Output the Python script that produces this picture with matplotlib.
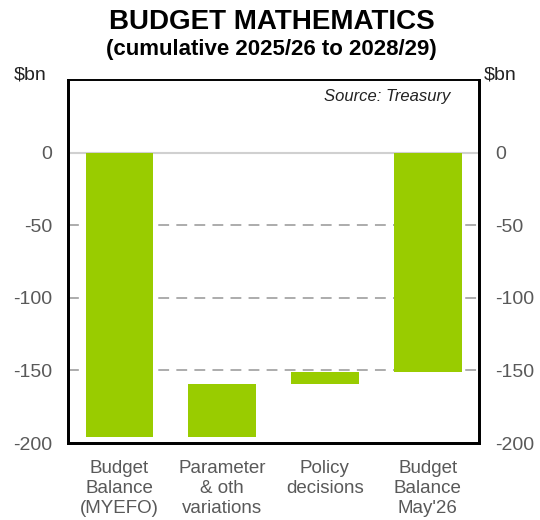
import numpy as np
import matplotlib.pyplot as plt

plt.rcParams['font.family'] = ['Liberation Sans', 'DejaVu Sans']
plt.rcParams['axes.unicode_minus'] = False

categories = ["Budget\nBalance\n(MYEFO)", "Parameter\n& oth\nvariations", "Policy\ndecisions", "Budget\nBalance\nMay'26"]
start_balance = -196
changes = [37, 8]
end_balance = start_balance + sum(changes)
y_ticks = [0, -50, -100, -150, -200]

green = '#99cc00'
tick_col = '#595959'

# waterfall: bottoms and heights
bottoms = [0]
heights = [start_balance]
running = start_balance
for c in changes:
    bottoms.append(running)
    heights.append(c)
    running += c
bottoms.append(0)
heights.append(end_balance)

fig = plt.figure(figsize=(5.4, 5.2), dpi=100)
ax = fig.add_axes([0.126, 0.148, 0.761, 0.698])

x = np.arange(len(categories))
for yv in [-50, -100, -150]:
    ax.axhline(yv, color='#a6a6a6', lw=1.3, ls=(0, (6, 4)), zorder=1)
ax.axhline(0, color='#d0d0d0', lw=1.5, zorder=1)
ax.bar(x, heights, bottom=bottoms, width=0.66, color=green, zorder=2)

ax.set_xlim(-0.5, 3.5)
ax.set_ylim(-200, 50)
ax.set_yticks(y_ticks)
ax.set_xticks(x)
ax.set_xticklabels(categories, fontsize=13.5, color=tick_col, linespacing=1.25)
ax.tick_params(axis='both', length=0, labelsize=14, labelcolor=tick_col)
ax.tick_params(axis='y', pad=11.5)
ax.tick_params(axis='x', pad=12, labelsize=13.5)

ax2 = ax.twinx()
ax2.set_ylim(-200, 50)
ax2.set_yticks(y_ticks)
ax2.tick_params(axis='y', length=0, labelsize=14, labelcolor=tick_col, pad=11.5)

for a in (ax, ax2):
    a.spines['left'].set_linewidth(2)
    a.spines['right'].set_linewidth(2)
    a.spines['bottom'].set_linewidth(2)
    a.spines['top'].set_linewidth(1.2)

ax.text(0.93, 0.975, 'Source: Treasury', transform=ax.transAxes, ha='right', va='top',
        fontsize=12, style='italic', color='#222222')
fig.text(0.026, 0.848, '$bn', fontsize=14, color='#222222', va='baseline')
fig.text(0.957, 0.848, '$bn', fontsize=14, color='#222222', va='baseline', ha='right')

fig.text(0.503, 0.958, 'BUDGET MATHEMATICS', ha='center', va='center', fontsize=20, fontweight='bold')
fig.text(0.503, 0.905, '(cumulative 2025/26 to 2028/29)', ha='center', va='center', fontsize=16, fontweight='bold')

fig.savefig('out.png', dpi=100)
